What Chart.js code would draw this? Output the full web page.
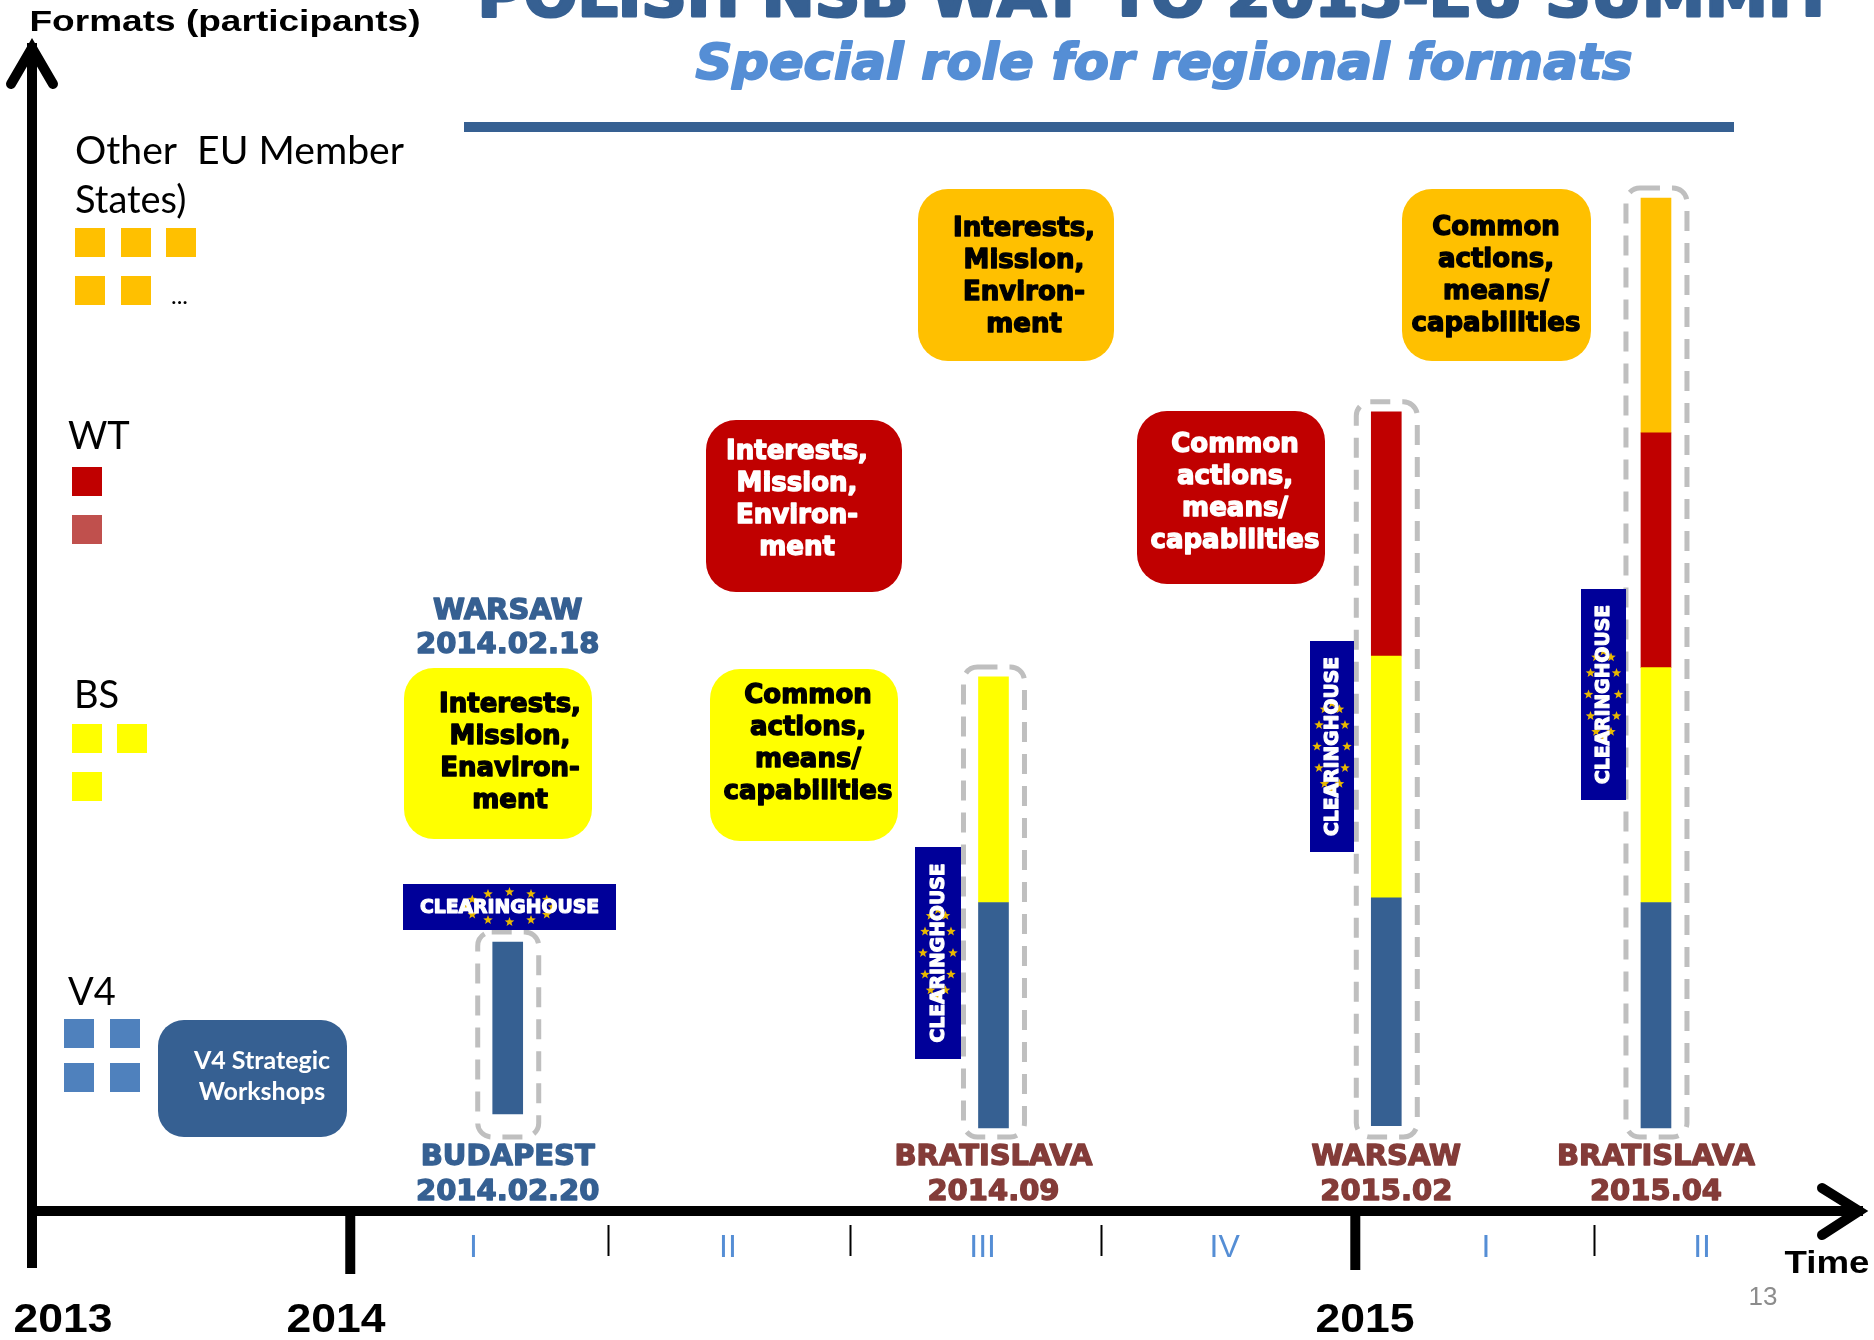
<!DOCTYPE html>
<html>
<head>
<meta charset="utf-8">
<script src="https://cdn.jsdelivr.net/npm/chart.js@4.4.1/dist/chart.umd.min.js"></script>
<style>
html, body { margin: 0; padding: 0; background: #fff; }
#wrap { width: 1874px; height: 1340px; }
</style>
</head>
<body>
<div id="wrap"><canvas id="grafico" width="1874" height="1340"></canvas></div>
<script>
// time axis in months from Jan 2014 (schematic), height in "formats"
const eventX = [1.88, 7.68, 12.37, 15.59];
const eventCity = ["BUDAPEST", "BRATISLAVA", "WARSAW", "BRATISLAVA"];
const eventDate = ["2014.02.20", "2014.09", "2015.02", "2015.04"];
const v4Seg = [[0.06, 0.80], [0, 0.97], [0.01, 0.99], [0, 0.97]];
const bsSeg = [null, [0.97, 1.94], [0.99, 2.03], [0.97, 1.98]];
const wtSeg = [null, null, [2.03, 3.08], [1.98, 2.99]];
const otherSeg = [null, null, null, [2.99, 4.0]];

const yearTicks = [-3.8, 0, 12];
const yearLabels = ["2013", "2014", "2015"];
const quarterSep = [3.08, 5.97, 8.96, 14.85];
const quarterPos = [1.47, 4.51, 7.55, 10.44, 13.56, 16.14];
const quarterLabels = ["I", "II", "III", "IV", "I", "II"];

const AZUL = "#366092";
const CLARO = "#558ED5";
const VINHO = "#843C39";

// layout of the slide decorations (pixels)
const caixas = [
    { x: 404, y: 668, w: 188, h: 171, fill: "#FFFF00", cor: "#000", tx: 510, ty: 705, linhas: ["Interests,", "Mission,", "Enaviron-", "ment"] },
    { x: 710, y: 669, w: 188, h: 172, fill: "#FFFF00", cor: "#000", tx: 808, ty: 696, linhas: ["Common", "actions,", "means/", "capabilities"] },
    { x: 706, y: 420, w: 196, h: 172, fill: "#C00000", cor: "#fff", tx: 797, ty: 452, linhas: ["Interests,", "Mission,", "Environ-", "ment"] },
    { x: 1137, y: 411, w: 188, h: 173, fill: "#C00000", cor: "#fff", tx: 1235, ty: 445, linhas: ["Common", "actions,", "means/", "capabilities"] },
    { x: 918, y: 189, w: 196, h: 172, fill: "#FFC000", cor: "#000", tx: 1024, ty: 229, linhas: ["Interests,", "Mission,", "Environ-", "ment"] },
    { x: 1402, y: 189, w: 189, h: 172, fill: "#FFC000", cor: "#000", tx: 1496, ty: 228, linhas: ["Common", "actions,", "means/", "capabilities"] }
];
const selos = [
    { x: 403, y: 884, w: 213, h: 46, vertical: false },
    { x: 915, y: 847, w: 46, h: 212, vertical: true },
    { x: 1310, y: 641, w: 44, h: 211, vertical: true },
    { x: 1581, y: 589, w: 45, h: 211, vertical: true }
];
const quadrados = [
    { cor: "#FFC000", pos: [[75, 228], [121, 228], [166, 228], [75, 276], [121, 276]] },
    { cor: "#C00000", pos: [[72, 467]] },
    { cor: "#C0504D", pos: [[72, 515]] },
    { cor: "#FFFF00", pos: [[72, 724], [117, 724], [72, 772]] },
    { cor: "#4F81BD", pos: [[64, 1019], [110, 1019], [64, 1063], [110, 1063]] }
];
const yearLabelX = [63, 336, 1365];

function serie(label, segs, cor) {
    return {
        label,
        data: eventX.map((x, i) => segs[i] ? { x, y: segs[i] } : null).filter(Boolean),
        backgroundColor: cor,
        barThickness: 30,
        grouped: false
    };
}

function retanguloRedondo(ctx, x, y, w, h, r) {
    ctx.beginPath();
    ctx.moveTo(x + r, y);
    ctx.lineTo(x + w - r, y);
    ctx.arcTo(x + w, y, x + w, y + r, r);
    ctx.lineTo(x + w, y + h - r);
    ctx.arcTo(x + w, y + h, x + w - r, y + h, r);
    ctx.lineTo(x + r, y + h);
    ctx.arcTo(x, y + h, x, y + h - r, r);
    ctx.lineTo(x, y + r);
    ctx.arcTo(x, y, x + r, y, r);
    ctx.closePath();
}

// fill text scaled to a width; "grosso" adds a stroke to mimic a black-weight face
function textoAjustado(ctx, texto, cx, y, largura, fonte, grosso = 0) {
    ctx.font = fonte;
    const w = ctx.measureText(texto).width;
    ctx.save();
    ctx.translate(cx, y);
    ctx.scale(largura / w, 1);
    ctx.textAlign = "center";
    ctx.fillText(texto, 0, 0);
    if (grosso) {
        ctx.strokeStyle = ctx.fillStyle;
        ctx.lineWidth = grosso;
        ctx.lineJoin = "round";
        ctx.strokeText(texto, 0, 0);
    }
    ctx.restore();
}

function textoGrosso(ctx, texto, x, y, grosso) {
    ctx.fillText(texto, x, y);
    ctx.save();
    ctx.strokeStyle = ctx.fillStyle;
    ctx.lineWidth = grosso;
    ctx.lineJoin = "round";
    ctx.strokeText(texto, x, y);
    ctx.restore();
}

function estrela(ctx, cx, cy, r) {
    ctx.beginPath();
    for (let k = 0; k < 10; k++) {
        const ang = -Math.PI / 2 + k * Math.PI / 5;
        const rr = k % 2 ? r * 0.42 : r;
        ctx.lineTo(cx + rr * Math.cos(ang), cy + rr * Math.sin(ang));
    }
    ctx.closePath();
    ctx.fill();
}

function desenharSelo(ctx, s) {
    ctx.fillStyle = "#000099";
    ctx.fillRect(s.x, s.y, s.w, s.h);
    const cx = s.x + s.w / 2, cy = s.y + s.h / 2;
    const rx = s.vertical ? 15 : 43, ry = s.vertical ? 43 : 15;
    ctx.fillStyle = "#E8B800";
    for (let k = 0; k < 12; k++) {
        const a = k * Math.PI / 6;
        estrela(ctx, cx + rx * Math.cos(a), cy + ry * Math.sin(a), 5);
    }
    ctx.save();
    ctx.translate(cx, cy);
    if (s.vertical) ctx.rotate(-Math.PI / 2);
    ctx.fillStyle = "#fff";
    ctx.textBaseline = "middle";
    textoAjustado(ctx, "CLEARINGHOUSE", 0, 1, 179, "bold 19px 'DejaVu Sans'", 1.2);
    ctx.restore();
}

const decoracao = {
    id: "decoracao",
    afterDatasetsDraw(chart) {
        const ctx = chart.ctx;
        const sx = chart.scales.x, sy = chart.scales.y;
        ctx.save();

        // title block
        ctx.fillStyle = AZUL;
        ctx.textBaseline = "alphabetic";
        textoAjustado(ctx, "POLISH NSB WAY TO 2015-EU SUMMIT", 1156, 16, 1357, "bold 60px 'DejaVu Sans'", 3);
        ctx.fillStyle = CLARO;
        textoAjustado(ctx, "Special role for regional formats", 1164, 79, 937, "italic bold 49px 'DejaVu Sans'", 2);
        ctx.fillStyle = AZUL;
        ctx.fillRect(464, 122, 1270, 10);

        ctx.fillStyle = "#000";
        textoAjustado(ctx, "Formats (participants)", 225, 31, 391, "bold 30px 'Liberation Sans'");
        textoAjustado(ctx, "Time", 1827, 1273, 85, "bold 32px 'Liberation Sans'");

        // arrows
        ctx.strokeStyle = "#000";
        ctx.lineWidth = 10;
        ctx.lineCap = "round";
        ctx.lineJoin = "miter";
        ctx.beginPath();
        ctx.moveTo(11, 84); ctx.lineTo(32, 48); ctx.lineTo(53, 84);
        ctx.stroke();
        ctx.beginPath();
        ctx.moveTo(1822, 1188); ctx.lineTo(1859, 1211); ctx.lineTo(1822, 1235);
        ctx.stroke();

        // year ticks and labels
        ctx.lineCap = "butt";
        const fimAno = [1268, 1274, 1270];
        yearTicks.forEach((v, i) => {
            const px = sx.getPixelForValue(v);
            ctx.beginPath();
            ctx.moveTo(px, 1211); ctx.lineTo(px, fimAno[i]);
            ctx.stroke();
            textoAjustado(ctx, yearLabels[i], yearLabelX[i], 1332, 99, "bold 40px 'Liberation Sans'");
        });
        ctx.lineWidth = 2;
        quarterSep.forEach(v => {
            const px = Math.round(sx.getPixelForValue(v)) + 0.5;
            ctx.beginPath();
            ctx.moveTo(px, 1225); ctx.lineTo(px, 1256);
            ctx.stroke();
        });
        ctx.fillStyle = CLARO;
        ctx.font = "32px 'Liberation Sans'";
        ctx.textAlign = "center";
        ctx.textBaseline = "middle";
        quarterPos.forEach((v, i) => ctx.fillText(quarterLabels[i], sx.getPixelForValue(v), 1248));
        ctx.fillStyle = "#8C8C8C";
        ctx.font = "26px 'Liberation Sans'";
        ctx.fillText("13", 1763, 1298);

        // legend of formats
        ctx.fillStyle = "#000";
        ctx.textBaseline = "alphabetic";
        textoAjustado(ctx, "Other  EU Member", 75 + 329 / 2, 164, 329, "38px Lato");
        ctx.textAlign = "left";
        ctx.font = "38px Lato";
        ctx.fillText("States)", 75, 213);
        ctx.fillText("WT", 68, 449);
        ctx.fillText("BS", 74, 708);
        ctx.fillText("V4", 68, 1005);
        ctx.font = "24px Lato";
        ctx.fillText("...", 171, 304);
        quadrados.forEach(q => {
            ctx.fillStyle = q.cor;
            q.pos.forEach(([x, y]) => ctx.fillRect(x, y, 30, 29));
        });

        // V4 workshops box
        ctx.fillStyle = AZUL;
        retanguloRedondo(ctx, 158, 1020, 189, 117, 26);
        ctx.fill();
        ctx.fillStyle = "#fff";
        ctx.textAlign = "center";
        ctx.textBaseline = "middle";
        ctx.font = "bold 25px Lato";
        ctx.fillText("V4 Strategic", 262, 1061);
        ctx.fillText("Workshops", 262, 1092);

        // topic boxes
        caixas.forEach(c => {
            ctx.fillStyle = c.fill;
            retanguloRedondo(ctx, c.x, c.y, c.w, c.h, 30);
            ctx.fill();
            ctx.fillStyle = c.cor;
            ctx.font = "bold 26px 'DejaVu Sans'";
            c.linhas.forEach((t, k) => textoGrosso(ctx, t, c.tx, c.ty + k * 32, 1.4));
        });

        // dashed frames around each summit bar
        const segs = [v4Seg, bsSeg, wtSeg, otherSeg];
        const base = sy.getPixelForValue(0);
        ctx.strokeStyle = "#BFBFBF";
        ctx.lineWidth = 5;
        ctx.setLineDash([20, 12]);
        eventX.forEach((x, i) => {
            const topo = Math.max(...segs.map(s => s[i] ? s[i][1] : 0));
            const px = sx.getPixelForValue(x);
            const py = sy.getPixelForValue(topo) - 10;
            retanguloRedondo(ctx, px - 30, py, 61, base + 9 - py, 14);
            ctx.stroke();
        });
        ctx.setLineDash([]);

        selos.forEach(s => desenharSelo(ctx, s));

        // place and date labels
        ctx.textAlign = "center";
        ctx.textBaseline = "middle";
        ctx.font = "bold 29px 'DejaVu Sans'";
        eventX.forEach((x, i) => {
            ctx.fillStyle = i === 0 ? AZUL : VINHO;
            const px = sx.getPixelForValue(x);
            textoGrosso(ctx, eventCity[i], px, 1157, 1.4);
            textoGrosso(ctx, eventDate[i], px, 1192, 1.4);
        });
        ctx.fillStyle = AZUL;
        textoGrosso(ctx, "WARSAW", sx.getPixelForValue(eventX[0]), 611, 1.4);
        textoGrosso(ctx, "2014.02.18", sx.getPixelForValue(eventX[0]), 645, 1.4);

        ctx.restore();
    }
};

const grafico = new Chart(document.getElementById("grafico"), {
    type: "bar",
    data: {
        datasets: [
            serie("V4", v4Seg, AZUL),
            serie("BS", bsSeg, "#FFFF00"),
            serie("WT", wtSeg, "#C00000"),
            serie("Other EU Member States", otherSeg, "#FFC000")
        ]
    },
    options: {
        responsive: false,
        animation: false,
        layout: { padding: { left: 32, right: 12, top: 48, bottom: 129 } },
        plugins: { legend: { display: false }, tooltip: { enabled: false } },
        scales: {
            x: {
                type: "linear", min: -3.8, max: 18.05, offset: false,
                grid: { display: false, drawTicks: false },
                ticks: { display: false },
                border: { display: true, color: "#000", width: 10 }
            },
            y: {
                min: -0.357, max: 4.645,
                grid: { display: false, drawTicks: false },
                ticks: { display: false },
                border: { display: true, color: "#000", width: 10 }
            }
        }
    },
    plugins: [decoracao]
});
</script>
</body>
</html>
